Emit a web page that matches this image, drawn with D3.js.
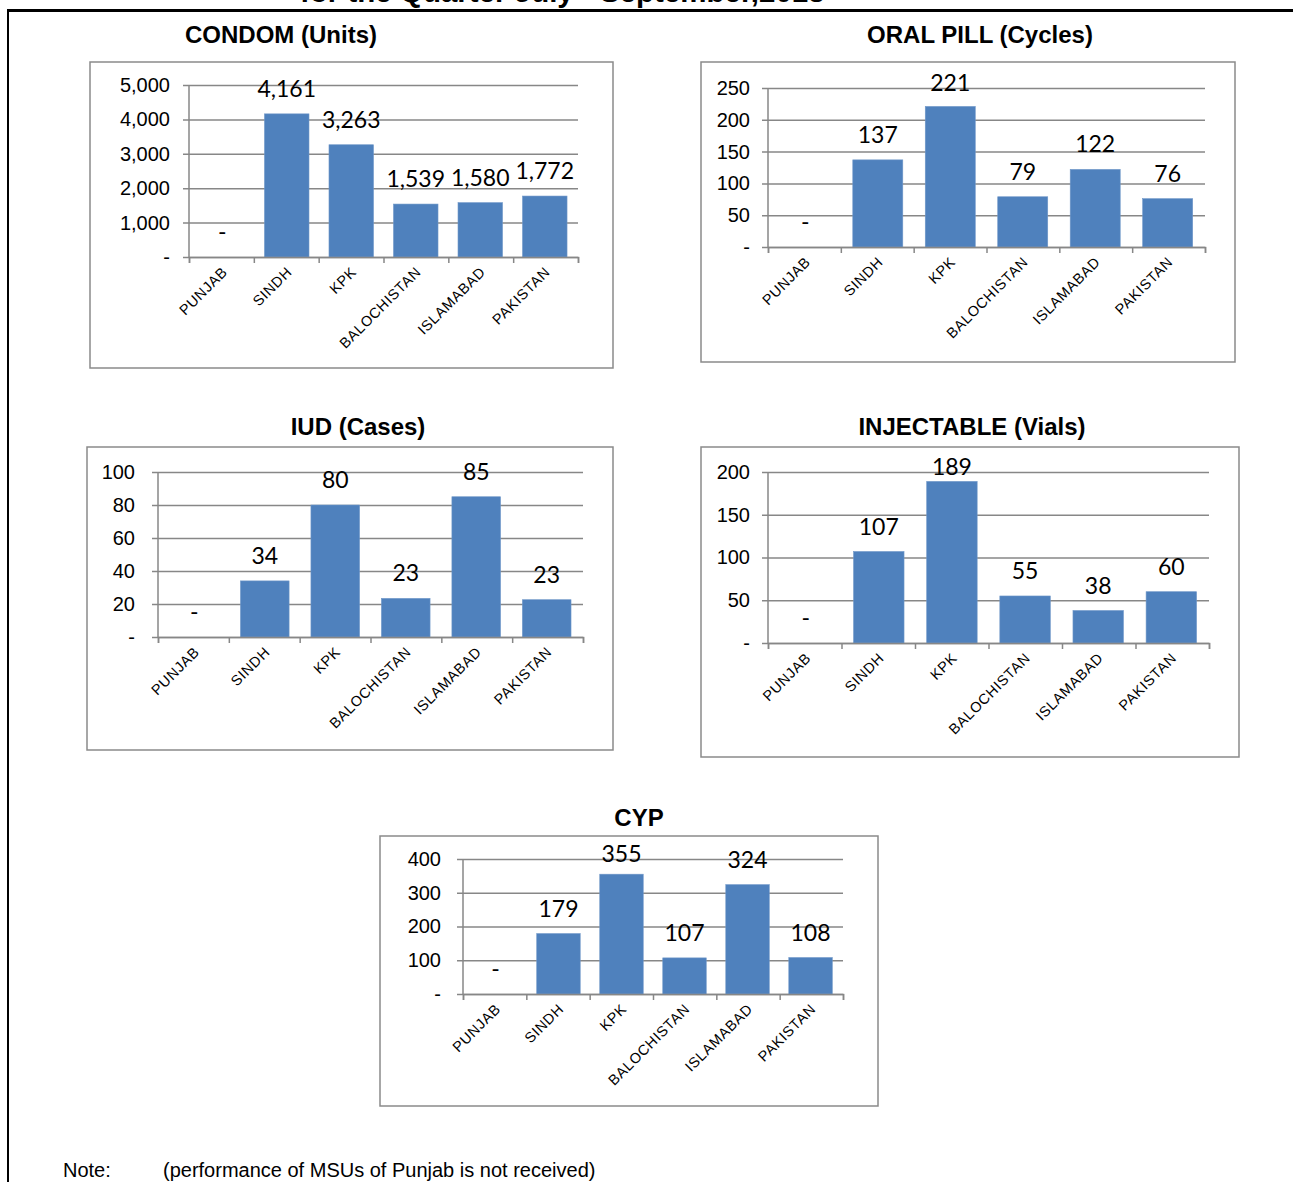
<!DOCTYPE html>
<html><head><meta charset="utf-8">
<script src="https://cdn.jsdelivr.net/npm/d3@7"></script>
<style>
body{margin:0;background:#fff;}
svg{display:block;}
</style></head>
<body>
<svg id="page" width="1293" height="1182"></svg>
<script>
// ---- data ----
const categories = ["PUNJAB","SINDH","KPK","BALOCHISTAN","ISLAMABAD","PAKISTAN"];
const condomValues = [0, 4161, 3263, 1539, 1580, 1772];
const pillValues = [0, 137, 221, 79, 122, 76];
const iudValues = [0, 34, 80, 23.4, 85, 22.6];
const injectableValues = [0, 107, 189, 55, 38, 60];
const cypValues = [0, 179, 355, 107, 324, 108];

const condomTicks = [0, 1000, 2000, 3000, 4000, 5000];
const pillTicks = [0, 50, 100, 150, 200, 250];
const iudTicks = [0, 20, 40, 60, 80, 100];
const injectableTicks = [0, 50, 100, 150, 200];
const cypTicks = [0, 100, 200, 300, 400];

const pageTitle = "for the Quarter July - September,2013";
const noteLabel = "Note:";
const noteText = "(performance of MSUs of Punjab is not received)";

// ---- layout ----
const charts = [
  {title:"CONDOM (Units)", values:condomValues, ticks:condomTicks,
   box:[90,62,523,306], tx:281, ty:43, x0:189, x1:578, yTop:85, yBase:257, gap:19},
  {title:"ORAL PILL (Cycles)", values:pillValues, ticks:pillTicks,
   box:[701,62,534,300], tx:980, ty:43, x0:768, x1:1205, yTop:88, yBase:247, gap:18},
  {title:"IUD (Cases)", values:iudValues, ticks:iudTicks,
   box:[87,447,526,303], tx:358, ty:435, x0:158, x1:583, yTop:472, yBase:637, gap:23},
  {title:"INJECTABLE (Vials)", values:injectableValues, ticks:injectableTicks,
   box:[701,447,538,310], tx:972, ty:435, x0:768, x1:1209, yTop:472, yBase:643, gap:18},
  {title:"CYP", values:cypValues, ticks:cypTicks,
   box:[380,836,498,270], tx:639, ty:826, x0:463, x1:843, yTop:859, yBase:994, gap:22}
];

const BAR = "#4F81BD";
const GRID = "#878787";
const fmt = d3.format(",.0f");
const lab = v => v === 0 ? "-" : fmt(v);

const svg = d3.select("#page");
svg.append("rect").attr("width",1293).attr("height",1182).attr("fill","#fff");

// page header remnants
svg.append("text").attr("x",300).attr("y",1.5)
  .attr("font-family","Arial, 'Liberation Sans', sans-serif").attr("font-weight","bold")
  .attr("font-size",29.5).attr("fill","#000").text(pageTitle);
svg.append("line").attr("x1",7).attr("x2",1293).attr("y1",10.5).attr("y2",10.5)
  .attr("stroke","#000").attr("stroke-width",3);
svg.append("line").attr("x1",8).attr("x2",8).attr("y1",9).attr("y2",1182)
  .attr("stroke","#000").attr("stroke-width",2);

charts.forEach(c => {
  const g = svg.append("g");
  const [bx,by,bw,bh] = c.box;
  g.append("rect").attr("x",bx).attr("y",by).attr("width",bw).attr("height",bh)
    .attr("fill","#fff").attr("stroke","#8a8a8a").attr("stroke-width",1.5);
  g.append("text").attr("x",c.tx).attr("y",c.ty).attr("text-anchor","middle")
    .attr("font-family","Arial, 'Liberation Sans', sans-serif").attr("font-weight","bold")
    .attr("font-size",24).attr("fill","#000").text(c.title);

  const x = d3.scaleBand().domain(categories).range([c.x0,c.x1])
    .paddingInner(0.31).paddingOuter(0.17);
  const y = d3.scaleLinear().domain([0, d3.max(c.ticks)]).range([c.yBase,c.yTop]);
  const xi = d3.scaleLinear().domain([0,categories.length]).range([c.x0,c.x1]);

  // y axis with gridlines
  const W = c.x1 - c.x0;
  const ya = g.append("g").attr("transform",`translate(${c.x0-6},0)`)
    .call(d3.axisLeft(y).tickValues(c.ticks).tickSize(-(W+6)).tickPadding(c.gap-6).tickFormat(lab));
  ya.select(".domain").remove();
  ya.selectAll(".tick line").attr("stroke",GRID).attr("stroke-width",1.5);
  ya.selectAll(".tick text").attr("font-family","Arial, 'Liberation Sans', sans-serif")
    .attr("font-size",20).attr("fill","#000");

  // bars
  g.selectAll("rect.bar").data(c.values.map((v,i)=>({cat:categories[i],v})))
    .join("rect").attr("class","bar")
    .attr("x",d=>x(d.cat)).attr("width",x.bandwidth())
    .attr("y",d=>y(d.v)).attr("height",d=>c.yBase-y(d.v))
    .attr("fill",BAR).attr("stroke","#6f97c8").attr("stroke-width",0.6);

  // y axis line
  g.append("line").attr("x1",c.x0).attr("x2",c.x0).attr("y1",c.yTop).attr("y2",c.yBase)
    .attr("stroke",GRID).attr("stroke-width",1.5);

  // x axis with boundary ticks
  const xa = g.append("g").attr("transform",`translate(0,${c.yBase})`)
    .call(d3.axisBottom(xi).tickValues(d3.range(categories.length+1)).tickSize(6).tickFormat(""));
  xa.select(".domain").attr("stroke",GRID).attr("stroke-width",1.5);
  xa.selectAll(".tick line").attr("stroke",GRID).attr("stroke-width",1.5);

  // category labels
  g.selectAll("text.cat").data(categories).join("text").attr("class","cat")
    .attr("transform",d=>`translate(${x(d)+x.bandwidth()/2+6},${c.yBase+16}) rotate(-45)`)
    .attr("text-anchor","end")
    .attr("font-family","Arial, 'Liberation Sans', sans-serif")
    .attr("font-size",14.5).attr("letter-spacing",0.6).attr("fill","#000").text(d=>d);

  // value labels
  g.selectAll("text.val").data(c.values.map((v,i)=>({cat:categories[i],v})))
    .join("text").attr("class","val")
    .attr("x",d=>x(d.cat)+x.bandwidth()/2)
    .attr("y",d=>Math.max(y(d.v)-17, c.yTop+3))
    .attr("text-anchor","middle")
    .attr("font-family","Lato, 'Open Sans', sans-serif")
    .attr("font-size",23).attr("fill","#000").text(d=>lab(d.v));
});

// note
svg.append("text").attr("x",63).attr("y",1177)
  .attr("font-family","Arial, 'Liberation Sans', sans-serif").attr("font-size",20)
  .attr("fill","#000").text(noteLabel);
svg.append("text").attr("x",163).attr("y",1177)
  .attr("font-family","Arial, 'Liberation Sans', sans-serif").attr("font-size",20)
  .attr("fill","#000").text(noteText);
</script>
</body></html>
